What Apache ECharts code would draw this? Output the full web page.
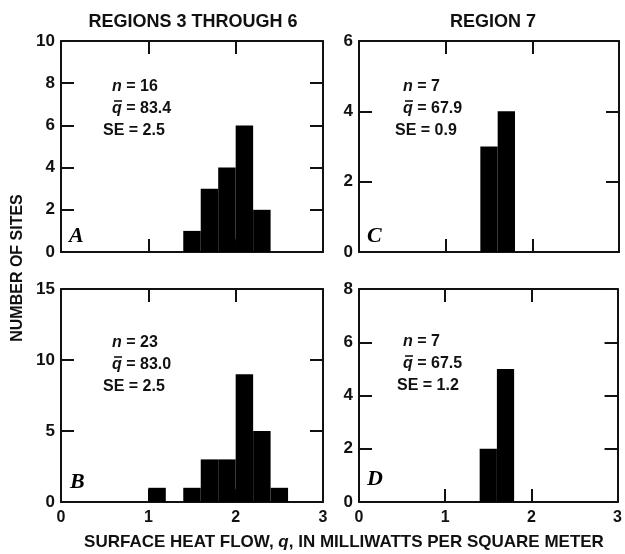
<!DOCTYPE html>
<html>
<head>
<meta charset="utf-8">
<script src="https://cdn.jsdelivr.net/npm/echarts@6/dist/echarts.min.js"></script>
<style>
html,body{margin:0;padding:0;background:#fff;}
#chart{width:625px;height:554px;}
</style>
</head>
<body>
<div id="chart"></div>
<script>
// bin start values (width 0.2) and counts
var binWidth = 0.2;
var binsA = [1.4, 1.6, 1.8, 2.0, 2.2];
var countsA = [1, 3, 4, 6, 2];
var binsB = [1.0, 1.4, 1.6, 1.8, 2.0, 2.2, 2.4];
var countsB = [1, 1, 3, 3, 9, 5, 1];
var binsC = [1.4, 1.6];
var countsC = [3, 4];
var binsD = [1.4, 1.6];
var countsD = [2, 5];

var yMax = [10, 15, 6, 8];      // A, B, C, D
var yStep = [2, 5, 2, 2];

var panelTitles = ['REGIONS 3 THROUGH 6', 'REGION 7'];
var stats = [
	['16', '83.4', '2.5'],
	['23', '83.0', '2.5'],
	['7', '67.9', '0.9'],
	['7', '67.5', '1.2']
];
var letters = ['A', 'B', 'C', 'D'];

var FONT = '"Liberation Sans", Arial, sans-serif';
var INK = '#111';

// grid boxes: A, B, C, D
var grids = [
	{left: 61, top: 41, width: 262, height: 211},
	{left: 61, top: 289, width: 262, height: 213},
	{left: 359, top: 41, width: 260, height: 211},
	{left: 359, top: 289, width: 260, height: 213}
];

function toData(bins, counts){
	var out = [];
	for(var i = 0; i < bins.length; i++){
		out.push([bins[i], bins[i] + binWidth, counts[i]]);
	}
	return out;
}
var dataList = [toData(binsA, countsA), toData(binsB, countsB), toData(binsC, countsC), toData(binsD, countsD)];

function renderBin(params, api){
	var p0 = api.coord([api.value(0), api.value(2)]);
	var p1 = api.coord([api.value(1), 0]);
	return {
		type: 'rect',
		shape: {x: p0[0], y: p0[1], width: p1[0] - p0[0], height: p1[1] - p0[1]},
		style: {fill: '#000'}
	};
}

var lineStyle = {color: INK, width: 2};
var xAxis = [], yAxis = [], series = [];
for(var g = 0; g < 4; g++){
	var bottomRow = (g == 1 || g == 3);
	// bottom x axis
	xAxis.push({
		type: 'value', gridIndex: g, min: 0, max: 3, interval: 1, position: 'bottom',
		axisLine: {show: true, onZero: false, lineStyle: lineStyle},
		axisTick: {show: true, inside: true, length: 13, lineStyle: lineStyle},
		axisLabel: {show: bottomRow, margin: 8, color: INK, fontFamily: FONT, fontSize: 16, fontWeight: 'bold'},
		splitLine: {show: false}
	});
	// top x axis (frame + ticks)
	xAxis.push({
		type: 'value', gridIndex: g, min: 0, max: 3, interval: 1, position: 'top',
		axisLine: {show: true, onZero: false, lineStyle: lineStyle},
		axisTick: {show: true, inside: true, length: 13, lineStyle: lineStyle},
		axisLabel: {show: false},
		splitLine: {show: false}
	});
	yAxis.push({
		type: 'value', gridIndex: g, min: 0, max: yMax[g], interval: yStep[g], position: 'left',
		axisLine: {show: true, onZero: false, lineStyle: lineStyle},
		axisTick: {show: true, inside: true, length: 13, lineStyle: lineStyle},
		axisLabel: {margin: 6, color: INK, fontFamily: FONT, fontSize: 17, fontWeight: 'bold'},
		splitLine: {show: false}
	});
	yAxis.push({
		type: 'value', gridIndex: g, min: 0, max: yMax[g], interval: yStep[g], position: 'right',
		axisLine: {show: true, onZero: false, lineStyle: lineStyle},
		axisTick: {show: true, inside: true, length: 13, lineStyle: lineStyle},
		axisLabel: {show: false},
		splitLine: {show: false}
	});
	series.push({
		type: 'custom',
		xAxisIndex: g * 2,
		yAxisIndex: g * 2,
		renderItem: renderBin,
		encode: {x: [0, 1], y: 2},
		data: dataList[g],
		silent: true
	});
}

function txt(size){
	return {fill: INK, font: 'bold ' + size + 'px ' + FONT};
}
function ital(size){
	return {i: {fontStyle: 'italic', fontWeight: 'bold', fontFamily: FONT, fontSize: size, color: INK}};
}

// n / q-bar / SE block, letter
var statPos = [
	{x: 112, xs: 103, y: 88},
	{x: 112, xs: 103, y: 344},
	{x: 403, xs: 395, y: 88},
	{x: 403, xs: 397, y: 343}
];
var letterPos = [[69, 237], [70, 483], [367, 237], [367, 480]];
var graphic = [];
for(var k = 0; k < 4; k++){
	var sp = statPos[k];
	graphic.push({type: 'text', left: sp.x, top: sp.y - 9, style: Object.assign(txt(16), {
		text: '{i|n} = ' + stats[k][0], rich: ital(16)
	})});
	graphic.push({type: 'text', left: sp.x, top: sp.y + 13, style: Object.assign(txt(16), {
		text: '{i|q} = ' + stats[k][1], rich: ital(16)
	})});
	graphic.push({type: 'line', shape: {x1: sp.x + 2, y1: sp.y + 13, x2: sp.x + 10, y2: sp.y + 13},
		style: {stroke: INK, lineWidth: 1.6}});
	graphic.push({type: 'text', left: sp.xs, top: sp.y + 35, style: Object.assign(txt(16), {
		text: 'SE = ' + stats[k][2]
	})});
	graphic.push({type: 'text', left: letterPos[k][0], top: letterPos[k][1] - 12, style: {
		text: letters[k], fill: '#000',
		font: 'italic bold 22px "Liberation Serif", "DejaVu Serif", serif'
	}});
}
// panel titles
graphic.push({type: 'text', x: 193, y: 22, style: Object.assign(txt(18), {text: panelTitles[0],
	align: 'center', verticalAlign: 'middle'})});
graphic.push({type: 'text', x: 493, y: 22, style: Object.assign(txt(18), {text: panelTitles[1],
	align: 'center', verticalAlign: 'middle'})});
// y title
graphic.push({type: 'text', x: 18, y: 268, rotation: Math.PI / 2, style: Object.assign(txt(16), {
	text: 'NUMBER OF SITES', align: 'center', verticalAlign: 'middle'})});
// x title
graphic.push({type: 'text', x: 344, y: 542, style: Object.assign(txt(17), {
	text: 'SURFACE HEAT FLOW, {i|q}, IN MILLIWATTS PER SQUARE METER',
	align: 'center', verticalAlign: 'middle', rich: ital(17)
})});

var myChart = echarts.init(document.getElementById('chart'), null, {renderer: 'canvas'});
myChart.setOption({
	backgroundColor: '#fff',
	animation: false,
	grid: grids,
	xAxis: xAxis,
	yAxis: yAxis,
	series: series,
	graphic: graphic
});
</script>
</body>
</html>
